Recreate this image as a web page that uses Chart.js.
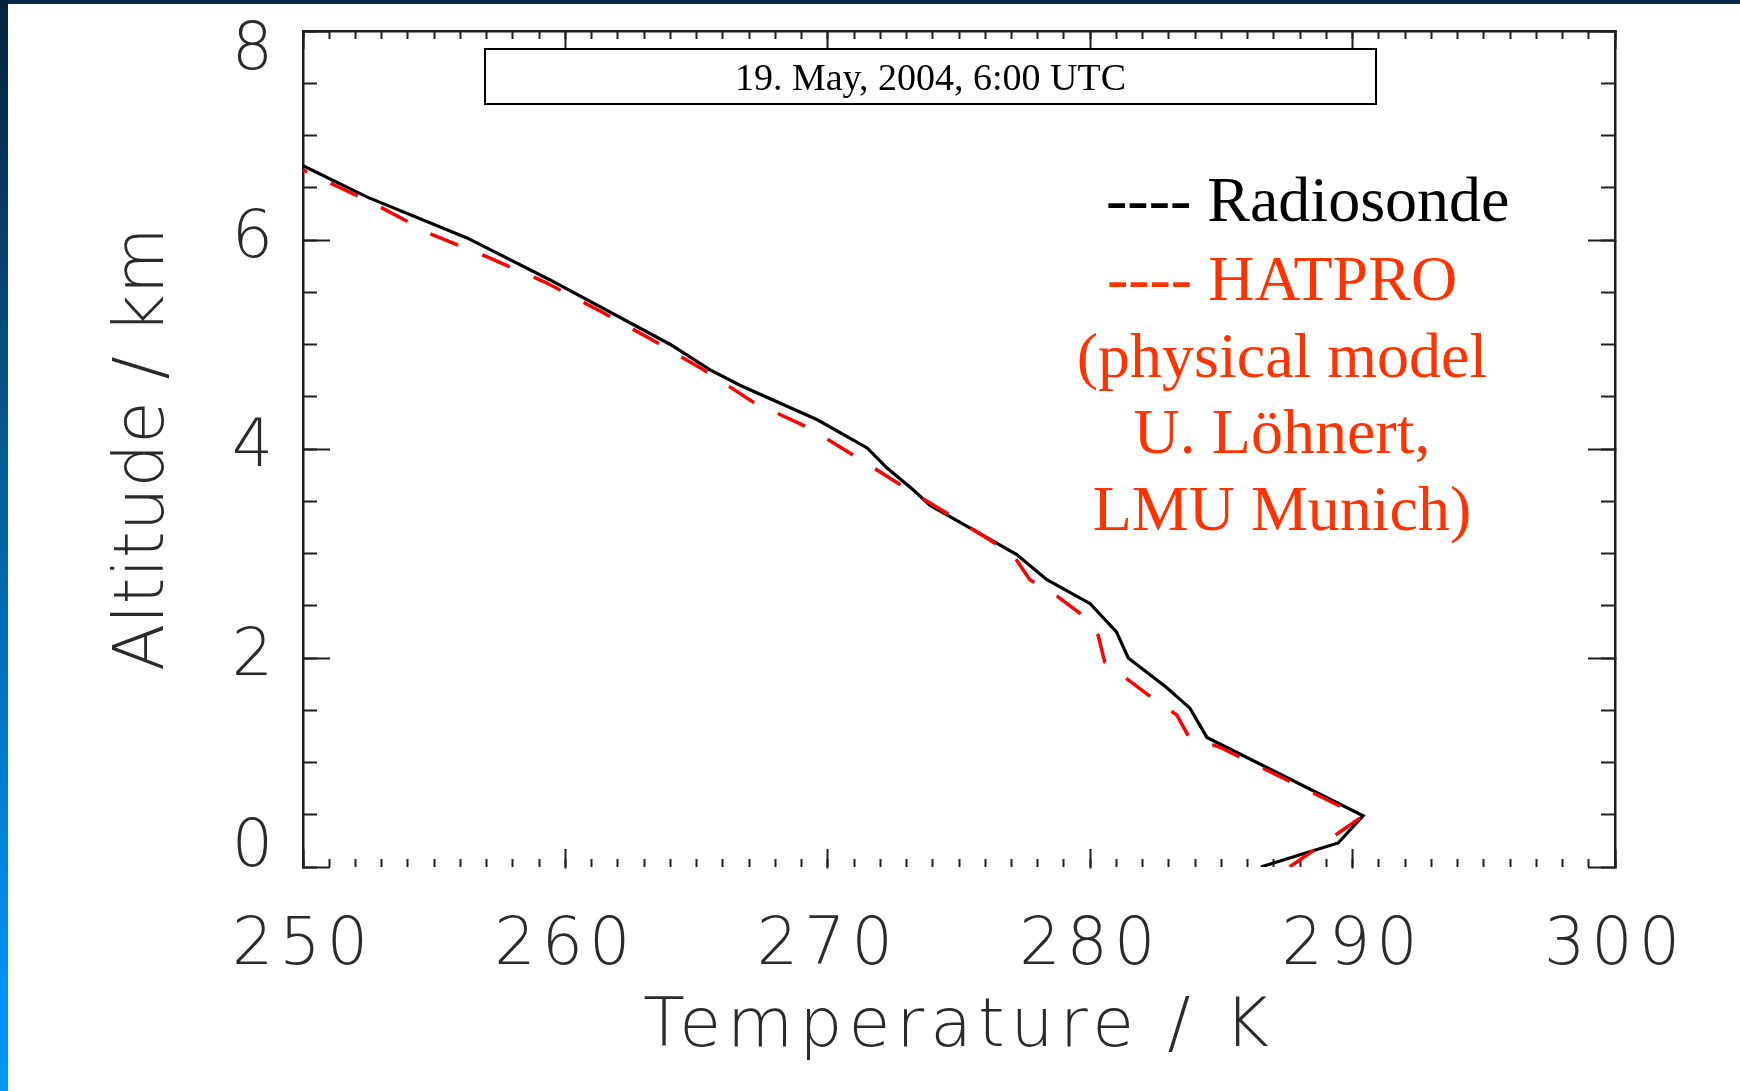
<!DOCTYPE html>
<html>
<head>
<meta charset="utf-8">
<title>Temperature profile, 19 May 2004</title>
<script src="https://cdn.jsdelivr.net/npm/chart.js@4.4.1/dist/chart.umd.min.js"></script>
<style>
  html, body { margin: 0; padding: 0; background: #ffffff; overflow: hidden; }
  #frame { position: relative; width: 1740px; height: 1091px; background: #ffffff; }
  #plot { position: absolute; left: 0; top: 0; }
  #topBand { position: absolute; left: 0; top: 0; width: 1740px; height: 4px; background: #062a4a; }
  #sideBand {
    position: absolute; left: 0; top: 0; width: 8px; height: 1091px;
    background: linear-gradient(to bottom, #04223d 0%, #063f6a 22%, #065c94 42%, #0070bf 60%, #0082dc 75%, #0090f2 88%, #0099ff 100%);
  }
</style>
</head>
<body>
<div id="frame">
  <canvas id="plot" width="1740" height="1091"></canvas>
  <div id="topBand"></div>
  <div id="sideBand"></div>
</div>
<script>
// Radiosonde ascent, listed from the ground upward
const radiosondeAlt  = [0.00, 0.23, 0.49, 1.24, 1.52, 1.72, 2.00, 2.25, 2.52, 2.75, 2.99, 3.19, 3.46, 3.61, 3.82, 4.01, 4.28, 4.61, 4.76, 5.00, 5.62, 6.02, 6.41, 6.71];
const radiosondeTemp = [286.5, 289.45, 290.4, 284.45, 283.8, 282.9, 281.45, 281.0, 280.0, 278.35, 277.2, 275.8, 273.9, 273.25, 272.25, 271.5, 269.6, 266.65, 265.5, 264.0, 259.4, 256.25, 252.45, 250.0];

// HATPRO retrieval (physical model), listed from the ground upward
const hatproAlt  = [0.00, 0.48, 1.14, 1.25, 1.455, 1.62, 1.79, 1.965, 2.22, 2.43, 2.60, 2.75, 2.99, 3.30, 3.59, 3.89, 4.20, 4.45, 4.76, 5.06, 5.33, 5.60, 5.84, 6.06, 6.335, 6.67];
const hatproTemp = [287.6, 290.35, 285.0, 283.75, 283.3, 282.35, 281.45, 280.55, 280.3, 279.6, 278.7, 277.7, 277.05, 275.1, 273.2, 271.3, 269.3, 267.15, 265.25, 263.2, 261.25, 259.2, 257.0, 254.85, 252.8, 250.0];

// Axis tick labels
const tempTicks = [250, 260, 270, 280, 290, 300];
const altTicks  = [0, 2, 4, 6, 8];

// Annotation texts
const stampText = '19. May, 2004, 6:00 UTC';
const legendRadiosonde = '---- Radiosonde';
const legendHatpro = ['---- HATPRO', '(physical model', 'U. Löhnert,', 'LMU Munich)'];

const axisColor  = '#1e1e1e';
const labelColor = '#2a2a2a';
const sansFamily = "'DejaVu Sans', 'Open Sans', sans-serif";
const serifFamily = "'Liberation Serif', 'DejaVu Serif', serif";

Chart.defaults.animation = false;
Chart.defaults.font.family = sansFamily;

const toPoints = (temps, alts) => temps.map((t, i) => ({ x: t, y: alts[i] }));
const useTicks = values => scale => { scale.ticks = values.map(v => ({ value: v })); };
const fixHeight = h => scale => { scale.height = h; scale.paddingLeft = 0; scale.paddingRight = 0; };
const fixWidth  = w => scale => { scale.width = w; scale.paddingTop = 0; scale.paddingBottom = 0; };

// inward-pointing tick marks on every side of the frame
function tickAxis(axis, position, min, max, step, len, withBorder, weight) {
  return {
    type: 'linear', axis, position, weight, min, max,
    ticks: { display: false, stepSize: step },
    grid: { drawOnChartArea: false, drawTicks: true, tickLength: -len, tickWidth: 2, tickColor: axisColor },
    border: { display: withBorder, color: axisColor, width: 2.5 },
    afterFit: axis === 'x' ? fixHeight(0) : fixWidth(0)
  };
}

// the temperature axis text is spread a little wider than the altitude axis text
const spacingPlugin = {
  id: 'xTextSpacing',
  afterDatasetsDraw(chart) { chart.ctx.letterSpacing = '6px'; },
  afterDraw(chart) { chart.ctx.letterSpacing = '0px'; }
};

const annotationPlugin = {
  id: 'annotations',
  afterDraw(chart) {
    const ctx = chart.ctx;
    ctx.save();
    ctx.letterSpacing = '0px';

    // date stamp box
    ctx.fillStyle = '#ffffff';
    ctx.fillRect(485, 49, 891, 55);
    ctx.strokeStyle = '#000000';
    ctx.lineWidth = 2;
    ctx.strokeRect(485, 49, 891, 55);
    ctx.fillStyle = '#000000';
    ctx.font = '38px ' + serifFamily;
    ctx.textAlign = 'center';
    ctx.textBaseline = 'middle';
    ctx.fillText(stampText, 930.5, 80);

    // legend text
    ctx.font = '64px ' + serifFamily;
    ctx.textBaseline = 'alphabetic';
    ctx.textAlign = 'left';
    ctx.fillStyle = '#000000';
    ctx.fillText(legendRadiosonde, 1106, 221);

    ctx.textAlign = 'center';
    ctx.fillStyle = '#ff3300';
    const baselines = [300, 377, 453, 530];
    legendHatpro.forEach((line, i) => ctx.fillText(line, 1282, baselines[i]));
    ctx.restore();
  }
};

// end labels sit slightly inside the frame
const labelNudge = { 8: ['', '8'], 0: ['0', ''] };
const nudgeLineHeight = { 8: 42, 0: 36 };

new Chart(document.getElementById('plot'), {
  type: 'scatter',
  data: {
    datasets: [
      {
        label: 'HATPRO',
        data: toPoints(hatproTemp, hatproAlt),
        showLine: true,
        borderColor: '#ff0000',
        borderWidth: 3.5,
        borderDash: [30, 26],
        pointRadius: 0,
        order: 1
      },
      {
        label: 'Radiosonde',
        data: toPoints(radiosondeTemp, radiosondeAlt),
        showLine: true,
        borderColor: '#000000',
        borderWidth: 3.2,
        pointRadius: 0,
        order: 2
      }
    ]
  },
  options: {
    responsive: false,
    layout: { padding: { top: 31, right: 125, bottom: 0, left: 0 } },
    plugins: { legend: { display: false }, tooltip: { enabled: false } },
    scales: {
      x: {
        type: 'linear', position: 'bottom', weight: 1, min: 250, max: 300,
        afterBuildTicks: useTicks(tempTicks),
        grid: { drawOnChartArea: false, drawTicks: true, tickLength: -18, tickWidth: 2, tickColor: axisColor, z: 1 },
        border: { display: true, color: axisColor, width: 2.5 },
        ticks: {
          autoSkip: false, maxRotation: 0, padding: 66, color: labelColor, z: 1,
          font: { family: sansFamily, size: 65, weight: '200', lineHeight: 1 }
        },
        title: {
          display: true, text: 'Temperature / K', color: labelColor,
          font: { family: sansFamily, size: 68, weight: '200', lineHeight: 1 },
          padding: { top: 0, bottom: 29 }
        },
        afterFit: fixHeight(224)
      },
      xMinor: tickAxis('x', 'bottom', 250, 300, 1, 8, false, 0),
      xTop: tickAxis('x', 'top', 250, 300, 10, 18, true, 0),
      xTopMinor: tickAxis('x', 'top', 250, 300, 1, 8, false, 1),
      y: {
        type: 'linear', position: 'left', weight: 1, min: 0, max: 8,
        afterBuildTicks: useTicks(altTicks),
        grid: { drawOnChartArea: false, drawTicks: true, tickLength: -27, tickWidth: 2, tickColor: axisColor },
        border: { display: true, color: axisColor, width: 2.5 },
        ticks: {
          padding: 57, color: labelColor,
          callback: v => labelNudge[v] || String(v),
          font: c => ({
            family: sansFamily, size: 65, weight: '200',
            lineHeight: c.tick && nudgeLineHeight[c.tick.value] ? nudgeLineHeight[c.tick.value] + 'px' : 1
          })
        },
        title: {
          display: true, text: 'Altitude / km', color: labelColor,
          font: { family: sansFamily, size: 69, weight: '200', lineHeight: 1 },
          padding: { top: 111, bottom: 0 }
        },
        afterFit: fixWidth(303)
      },
      yMinor: tickAxis('y', 'left', 0, 8, 0.5, 14, false, 0),
      yRight: tickAxis('y', 'right', 0, 8, 2, 27, true, 0),
      yRightMinor: tickAxis('y', 'right', 0, 8, 0.5, 14, false, 1)
    }
  },
  plugins: [spacingPlugin, annotationPlugin]
});
</script>
</body>
</html>
